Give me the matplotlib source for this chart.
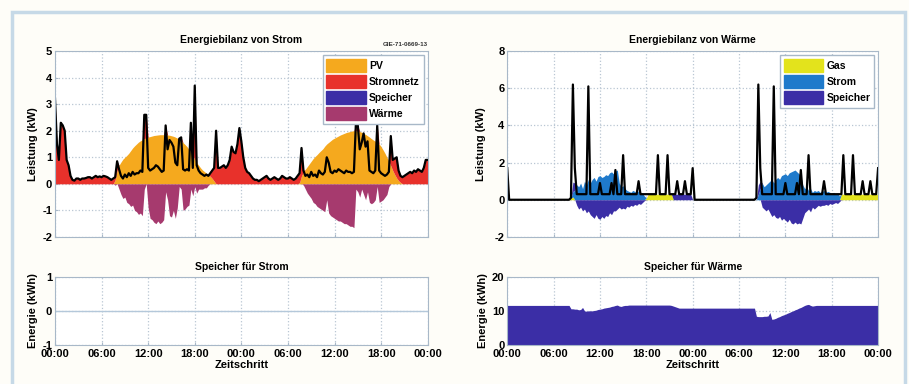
import numpy as np
import matplotlib.pyplot as plt
from matplotlib.patches import Patch, Rectangle

plt.rcParams['font.family'] = ['Liberation Sans', 'DejaVu Sans']
plt.rcParams['font.weight'] = 'bold'
plt.rcParams['axes.titleweight'] = 'bold'
plt.rcParams['axes.labelweight'] = 'bold'
plt.rcParams['axes.unicode_minus'] = False

# 15-min Zeitschritte ueber zwei Tage (Stunden)
zeit = np.arange(193) / 4.0
zeit_ticks = [0, 6, 12, 18, 24, 30, 36, 42, 48]
zeit_labels = ['00:00', '06:00', '12:00', '18:00', '00:00', '06:00', '12:00', '18:00', '00:00']

# --- Energiebilanz Strom (kW) ---
strom_last = [
    3.2, 1.5, 0.9, 2.3,   2.2, 2.0, 0.9, 0.7,   0.3, 0.15, 0.12, 0.2,   0.2, 0.15, 0.2, 0.2,
    0.22, 0.25, 0.25, 0.2,   0.25, 0.3, 0.25, 0.28,   0.25, 0.3, 0.28, 0.25,   0.2, 0.15, 0.2, 0.25,
    0.85, 0.55, 0.3, 0.2,   0.35, 0.25, 0.4, 0.3,   0.45, 0.35, 0.4, 0.4,   0.5, 0.45, 2.6, 2.6,
    0.6, 0.5, 0.55, 0.6,   0.7, 0.65, 0.55, 0.45,   0.5, 2.2, 1.3, 1.65,   1.55, 1.4, 0.8, 0.7,
    1.7, 1.75, 0.55, 0.5,   0.55, 0.5, 2.3, 0.6,   3.7, 0.7, 0.5, 0.4,   0.35, 0.3, 0.35, 0.3,
    0.4, 0.5, 0.6, 2.0,   0.6, 0.6, 0.65, 0.7,   0.6, 0.7, 0.9, 1.4,   1.2, 1.15, 1.5, 2.1,
    1.6, 1.0, 0.6, 0.45,   0.4, 0.3, 0.2, 0.15,   0.15, 0.1, 0.15, 0.2,   0.25, 0.3, 0.2, 0.15,
    0.2, 0.25, 0.2, 0.15,   0.2, 0.3, 0.25, 0.2,   0.2, 0.25, 0.2, 0.15,   0.2, 0.3, 0.4, 1.35,
    0.5, 0.3, 0.35, 0.25,   0.45, 0.3, 0.35, 0.25,   0.5, 0.4, 0.35, 0.45,   1.0, 0.8, 0.45, 0.4,
    0.5, 0.45, 0.55, 0.5,   0.45, 0.4, 0.5, 0.45,   0.45, 0.4, 0.45, 2.25,   2.2, 1.3, 1.55, 1.9,
    1.4, 1.6, 0.5, 0.45,   0.4, 0.5, 2.2, 0.5,   0.4, 0.35, 0.3, 0.35,   0.45, 1.8, 0.9, 0.95,
    1.0, 0.5, 0.3, 0.25,   0.3, 0.35, 0.4, 0.45,   0.4, 0.5, 0.45, 0.55,   0.5, 0.45, 0.6, 0.9,
    0.9]

pv = [0.0] * 28 + [
    0.0, 0.0, 0.0, 0.15,   0.5, 0.7, 0.82, 0.93,   1.0, 1.07, 1.15, 1.25,   1.35, 1.43, 1.5, 1.57,
    1.62, 1.66, 1.7, 1.73,   1.76, 1.78, 1.8, 1.82,   1.83, 1.84, 1.85, 1.85,   1.85, 1.85, 1.84, 1.83,
    1.81, 1.79, 1.76, 1.72,   1.67, 1.62, 1.55, 1.48,   1.4, 1.3, 1.18, 1.05,   0.92, 0.8, 0.7, 0.6,
    0.52, 0.46, 0.4, 0.34,   0.28, 0.2, 0.1, 0.0] + [0.0] * 40 + [
    0.0, 0.0, 0.05, 0.3,   0.45, 0.55, 0.65, 0.75,   0.85, 0.95, 1.03, 1.1,   1.18, 1.25, 1.32, 1.42,
    1.5, 1.56, 1.62, 1.68,   1.72, 1.76, 1.8, 1.84,   1.87, 1.9, 1.93, 1.95,   1.97, 1.99, 2.0, 2.0,
    1.99, 1.97, 1.94, 1.9,   1.86, 1.81, 1.76, 1.7,   1.65, 1.6, 1.55, 1.5,   1.4, 1.28, 1.15, 1.0,
    0.85, 0.68, 0.5, 0.35,   0.22, 0.12, 0.05, 0.0] + [0.0] * 13

waerme_strom = [0.0] * 28 + [
    0.0, 0.0, 0.0, -0.05,   0.0, -0.2, -0.4, -0.55,   -0.5, -0.7, -0.75, -0.85,   -0.8, -1.0, -1.05, -1.15,
    -1.1, -1.2, -0.2, 0.0,   -0.9, -1.3, -1.35, -1.45,   -1.5, -1.4, -1.5, -1.45,   -1.35, -0.3, -0.6, -1.2,
    -1.25, -1.0, -1.3, -0.9,   -0.1, -0.2, -1.0, -0.95,   -0.85, -0.8, -0.2, -0.45,   -0.1, -0.35, -0.2, -0.2,
    -0.2, -0.15, -0.15, -0.05,   0.0, 0.0, 0.0, 0.0] + [0.0] * 44 + [
    -0.05, -0.2, -0.35, -0.45,   -0.55, -0.7, -0.75, -0.85,   -0.9, -0.95, -1.0, -1.05,   -0.6, -1.1, -1.2, -1.25,
    -1.3, -1.35, -1.4, -1.4,   -1.45, -1.5, -1.5, -1.55,   -1.6, -1.6, -1.65, -0.2,   -0.3, -0.5, -0.2, -0.4,
    -0.6, -0.3, -0.7, -0.75,   -0.7, -0.6, -0.1, -0.7,   -0.65, -0.6, -0.5, -0.4,   -0.1, 0.0, 0.0, 0.0] + [0.0] * 17

speicher_strom = [0.0] * 193

# --- Energiebilanz Waerme (kW) ---
waerme_last = [1.7, 0.0, 0.0, 0.0] + [0.0] * 28 + [
    0.0, 0.1, 6.2, 1.7,   0.3, 0.3, 0.3, 0.3,   0.3, 0.3, 6.1, 0.3,   0.3, 0.3, 0.3, 0.3,
    0.9, 0.3, 0.3, 0.3,   0.3, 0.3, 0.9, 0.3,   1.6, 0.3, 0.3, 0.3,   2.4, 0.3, 0.3, 0.3,
    0.3, 0.3, 0.3, 0.3,   1.0, 0.3, 0.3, 0.3,   0.3, 0.3, 0.3, 0.3,   0.3, 0.3, 2.4, 0.3,
    0.3, 0.3, 0.3, 2.4,   0.3, 0.3, 0.3, 0.3,   1.0, 0.3, 0.3, 0.3,   1.0, 0.3, 0.3, 0.3,
    1.7, 0.0, 0.0, 0.0] + [0.0] * 28 + [
    0.0, 0.1, 6.2, 1.7,   0.3, 0.3, 0.3, 0.3,   0.3, 0.3, 6.1, 0.3,   0.3, 0.3, 0.3, 0.3,
    0.9, 0.3, 0.3, 0.3,   0.3, 0.3, 0.9, 0.3,   1.6, 0.3, 0.3, 0.3,   2.4, 0.3, 0.3, 0.3,
    0.3, 0.3, 0.3, 0.3,   1.0, 0.3, 0.3, 0.3,   0.3, 0.3, 0.3, 0.3,   0.3, 0.3, 2.4, 0.3,
    0.3, 0.3, 0.3, 2.4,   0.3, 0.3, 0.3, 0.3,   1.0, 0.3, 0.3, 0.3,   1.0, 0.3, 0.3, 0.3,
    1.7]

gas = [0.0] * 32 + [0.0, 0.1, 0.15, 0.0] + [0.0] * 36 + [
    0.1, 0.3, 0.3, 0.3,   0.3, 0.3, 0.3, 0.3,   0.3, 0.3, 0.3, 0.3,   0.3, 0.3, 0.0, 0.0] + [0.0] * 84 + [
    0.0, 0.3, 0.3, 0.3] + [0.3] * 17

strom_waerme = [0.0] * 32 + [
    0.0, 0.0, 0.3, 0.5,   0.8, 0.7, 0.9, 0.6,   1.0, 0.8, 1.1, 0.9,   1.1, 1.2, 1.0, 1.25,
    1.3, 1.2, 1.25, 1.35,   1.3, 1.45, 1.5, 1.4,   1.55, 1.6, 0.9, 0.7,   0.75, 0.6, 0.5, 0.45,
    0.4, 0.5, 0.45, 0.35,   0.5, 0.4, 0.35, 0.2] + [0.0] * 56 + [
    0.0, 0.0, 0.3, 0.6,   0.9, 0.7, 0.8, 0.9,   1.0, 1.1, 0.9, 1.1,   1.2, 1.1, 1.3, 1.35,
    1.4, 1.3, 1.45, 1.5,   1.55, 1.6, 1.5, 1.4,   1.3, 0.8, 0.6, 0.7,   0.5, 0.6, 0.4, 0.5,
    0.45, 0.5, 0.4, 0.45,   0.5, 0.4, 0.45, 0.4,   0.35, 0.4, 0.3, 0.35,   0.2, 0.0, 0.0, 0.0] + [0.0] * 17

speicher_waerme = [0.0] * 32 + [
    0.0, 0.0, 0.5, 0.4,   -0.3, -0.5, -0.4, -0.6,   -0.5, -0.7, -0.6, -0.8,   -0.9, -1.0, -0.8, -1.0,
    -1.05, -0.9, -1.0, -0.85,   -0.9, -0.7, -0.8, -0.6,   -0.6, -0.5, -0.4, -0.5,   -0.45, -0.5, -0.35, -0.4,
    -0.3, -0.35, -0.25, -0.3,   -0.2, -0.25, -0.15, -0.05] + [0.0] * 12 + [
    0.0, 0.0, 0.3, 0.3,   0.3, 0.3, 0.3, 0.3,   0.3, 0.3, 0.3, 0.3] + [0.0] * 32 + [
    0.0, 0.0, 0.5, 0.4,   -0.4, -0.5, -0.6, -0.5,   -0.7, -0.9, -0.8, -0.95,   -1.0, -0.9, -1.1, -1.0,
    -1.1, -1.2, -1.05, -1.25,   -1.3, -1.2, -1.3, -1.25,   -1.3, -1.0, -0.7, -0.6,   -0.5, -0.65, -0.4, -0.5,
    -0.4, -0.3, -0.35, -0.3,   -0.3, -0.25, -0.3, -0.2,   -0.25, -0.2, -0.15, -0.2,   -0.1, 0.0, 0.0, 0.0] + [0.0] * 17

# --- Speicherstaende (kWh) ---
speicher_strom_kwh = [0.0] * 193

speicher_waerme_kwh = [11.6] * 32 + [
    11.6, 10.6, 10.6, 10.5,   10.5, 10.3, 10.4, 11.0,   10.0, 9.9, 10.0, 10.0,   10.0, 10.1, 10.2, 10.4,
    10.5, 10.6, 10.8, 10.9,   11.0, 11.1, 11.3, 11.4,   11.6, 11.7, 11.4, 11.3,   11.5, 11.6, 11.6, 11.7] + [11.7] * 20 + [
    11.7, 11.6, 11.4, 11.2,   11.0, 10.8, 10.8, 10.8] + [10.8] * 36 + [
    10.8, 8.4, 8.3, 8.3,   8.3, 8.4, 8.4, 8.5,   9.5, 7.5, 7.6, 7.8,   8.1, 8.3, 8.6, 8.8,
    9.0, 9.3, 9.5, 9.8,   10.0, 10.3, 10.5, 10.8,   11.0, 11.3, 11.6, 11.8,   11.9, 11.6, 11.4, 11.5] + [11.6] * 33

c_pv = '#f5a91e'
c_netz = '#e8312b'
c_speicher = '#3b2ea6'
c_waerme = '#a63a6e'
c_gas = '#e3e31c'
c_strom = '#1f7acb'
c_grid = '#b9c6d3'
c_spine = '#a8b8c8'


def style_axes(ax, yticks, show_x):
    ax.set_xlim(0, 48)
    ax.set_xticks(zeit_ticks)
    ax.set_yticks(yticks)
    ax.set_ylim(yticks[0], yticks[-1])
    ax.grid(True, ls=':', color=c_grid, lw=0.9)
    ax.set_axisbelow(True)
    ax.tick_params(direction='in', length=2.5, color=c_spine, labelsize=8, pad=2)
    ax.tick_params(axis='x', pad=3)
    for sp_ in ax.spines.values():
        sp_.set_color(c_spine)
        sp_.set_linewidth(0.8)
    if show_x:
        ax.set_xticklabels(zeit_labels)
        ax.set_xlabel('Zeitschritt', fontsize=8, labelpad=1)
    else:
        ax.set_xticklabels([])


def bilanz_legend(ax, handles):
    ax.legend(handles=handles, loc='upper right', fontsize=7.5, handlelength=3.8, handleheight=1.55,
              labelspacing=0.3, handletextpad=0.3, borderpad=0.35, fancybox=False, framealpha=1,
              edgecolor=c_spine, borderaxespad=0.4)


fig = plt.figure(figsize=(9.09, 3.84), dpi=100, facecolor='#fefdf8')
fig.patches.append(Rectangle((0.0132, -0.05), 0.9824, 1.019, transform=fig.transFigure,
                             fill=False, edgecolor='#c6d9e7', lw=2.5))

ax1 = fig.add_axes([0.0605, 0.383, 0.410, 0.484])
ax2 = fig.add_axes([0.558, 0.383, 0.408, 0.484])
ax3 = fig.add_axes([0.0605, 0.102, 0.410, 0.177])
ax4 = fig.add_axes([0.558, 0.102, 0.408, 0.177])

# Strombilanz: PV unten, Netzbezug darueber, Waermeerzeugung negativ
last = np.array(strom_last)
pv_a = np.array(pv)
netz = np.clip(last - pv_a, 0, None)
ax1.fill_between(zeit, 0, pv_a, color=c_pv, lw=0)
ax1.fill_between(zeit, pv_a, pv_a + netz, color=c_netz, lw=0)
ax1.fill_between(zeit, 0, speicher_strom, color=c_speicher, lw=0)
ax1.fill_between(zeit, 0, waerme_strom, color=c_waerme, lw=0)
ax1.plot(zeit, last, color='k', lw=1.6)
style_axes(ax1, [-2, -1, 0, 1, 2, 3, 4, 5], False)
ax1.set_title('Energiebilanz von Strom', fontsize=7.5, pad=6)
ax1.set_ylabel('Leistung (kW)', fontsize=8, labelpad=3)
ax1.text(1.0, 1.02, 'GIE-71-0669-13', transform=ax1.transAxes, ha='right', va='bottom',
         fontsize=4.5, color='#333333')
bilanz_legend(ax1, [Patch(color=c_pv, label='PV'), Patch(color=c_netz, label='Stromnetz'),
                    Patch(color=c_speicher, label='Speicher'), Patch(color=c_waerme, label='Wärme')])

# Waermebilanz: Gas, Strom, Speicher gestapelt
g = np.array(gas)
s = np.array(strom_waerme)
sp = np.array(speicher_waerme)
ax2.fill_between(zeit, 0, g, color=c_gas, lw=0)
ax2.fill_between(zeit, g, g + s, color=c_strom, lw=0)
ax2.fill_between(zeit, g + s, g + s + np.clip(sp, 0, None), color=c_speicher, lw=0)
ax2.fill_between(zeit, 0, np.clip(sp, None, 0), color=c_speicher, lw=0)
ax2.plot(zeit, waerme_last, color='k', lw=1.6)
style_axes(ax2, [-2, 0, 2, 4, 6, 8], False)
ax2.set_title('Energiebilanz von Wärme', fontsize=7.5, pad=6)
ax2.set_ylabel('Leistung (kW)', fontsize=8, labelpad=6)
bilanz_legend(ax2, [Patch(color=c_gas, label='Gas'), Patch(color=c_strom, label='Strom'),
                    Patch(color=c_speicher, label='Speicher')])

# Speicherstaende
ax3.plot(zeit, speicher_strom_kwh, color='#b4c8da', lw=1.0)
style_axes(ax3, [-1, 0, 1], True)
ax3.set_title('Speicher für Strom', fontsize=7.5, pad=5)
ax3.set_ylabel('Energie (kWh)', fontsize=8, labelpad=3)

ax4.fill_between(zeit, 0, speicher_waerme_kwh, color=c_speicher, lw=0)
style_axes(ax4, [0, 10, 20], True)
ax4.set_title('Speicher für Wärme', fontsize=7.5, pad=5)
ax4.set_ylabel('Energie (kWh)', fontsize=8, labelpad=3)

fig.savefig('out.png', dpi=100, facecolor=fig.get_facecolor())
